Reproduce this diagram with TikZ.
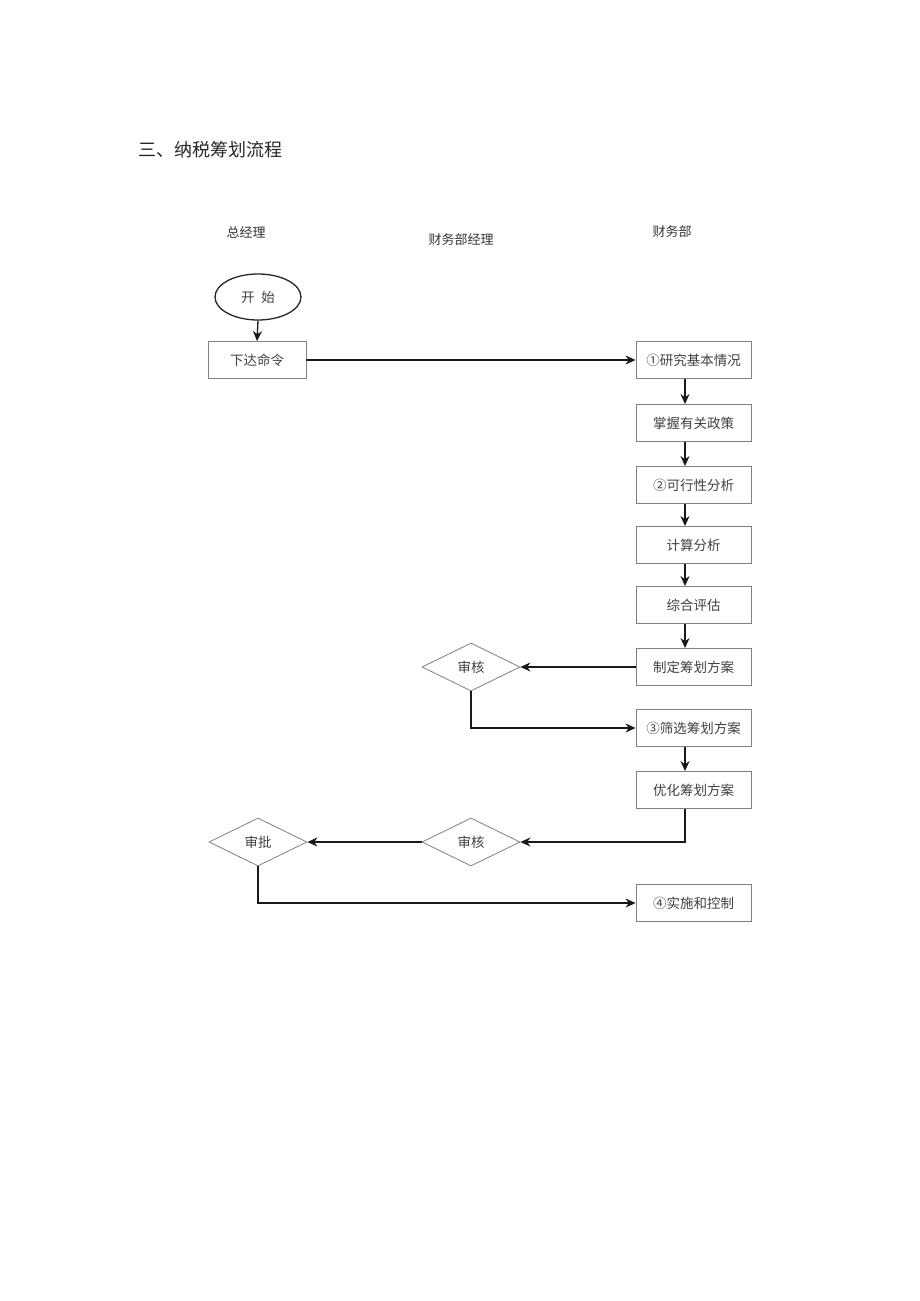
\documentclass[tikz,border=0pt]{standalone}
\usepackage{fontspec}
\setmainfont{Noto Sans CJK SC}
\usetikzlibrary{shapes.geometric,arrows.meta}
\begin{document}
\begin{tikzpicture}[x=1pt,y=-1pt,
  every node/.style={font=\fontsize{13.5}{15}\selectfont, text=black!75},
  stepbox/.style={draw=black!50, line width=0.9pt, minimum width=115pt, minimum height=37pt, inner sep=0pt},
  decide/.style={diamond, aspect=2.05, draw=black!50, line width=0.8pt, minimum width=98pt, minimum height=48pt, inner sep=0pt},
  startnode/.style={ellipse, draw=black!85, line width=1.3pt, minimum width=86pt, minimum height=46pt, inner sep=0pt},
  flow/.style={draw=black!90, line width=1.3pt, -{Stealth[length=10pt,width=9pt]}},
  lane/.style={font=\fontsize{13}{15}\selectfont, text=black!80}
]
\useasboundingbox (0,0) rectangle (920,1301);
\node[anchor=west, font=\fontsize{18}{20}\selectfont, text=black!85] (title) at (135,150) {三、纳税筹划流程};
\node[lane] (l1) at (246,232) {总经理};
\node[lane] (l2) at (461,240) {财务部经理};
\node[lane] (l3) at (672,232) {财务部};

\node[startnode] (start) at (258,297) {开\hspace{0.5em}始};
\node[stepbox, minimum width=98pt] (cmd) at (257,360) {下达命令};

\node[stepbox] (b1) at (693.5,360) {①研究基本情况};
\node[stepbox] (b2) at (693.5,423) {掌握有关政策};
\node[stepbox] (b3) at (693.5,485) {②可行性分析};
\node[stepbox] (b4) at (693.5,545) {计算分析};
\node[stepbox] (b5) at (693.5,605) {综合评估};
\node[stepbox] (b6) at (693.5,667) {制定筹划方案};
\node[stepbox] (b7) at (693.5,728) {③筛选筹划方案};
\node[stepbox] (b8) at (693.5,790) {优化筹划方案};
\node[stepbox] (b9) at (693.5,903) {④实施和控制};

\node[decide] (d1) at (471,667) {审核};
\node[decide] (d2) at (471,842) {审核};
\node[decide] (d3) at (258,842) {审批};

\coordinate (colx) at (685,0);

\draw[flow] (start.south) -- (cmd.north);
\draw[flow] (cmd.east) -- (b1.west);
\draw[flow] (b1.south -| colx) -- (b2.north -| colx);
\draw[flow] (b2.south -| colx) -- (b3.north -| colx);
\draw[flow] (b3.south -| colx) -- (b4.north -| colx);
\draw[flow] (b4.south -| colx) -- (b5.north -| colx);
\draw[flow] (b5.south -| colx) -- (b6.north -| colx);
\draw[flow] (b6.west) -- (d1.east);
\draw[flow] (d1.south) |- (b7.west);
\draw[flow] (b7.south -| colx) -- (b8.north -| colx);
\draw[flow] (b8.south -| colx) |- (d2.east);
\draw[flow] (d2.west) -- (d3.east);
\draw[flow] (d3.south) |- (b9.west);
\end{tikzpicture}
\end{document}
